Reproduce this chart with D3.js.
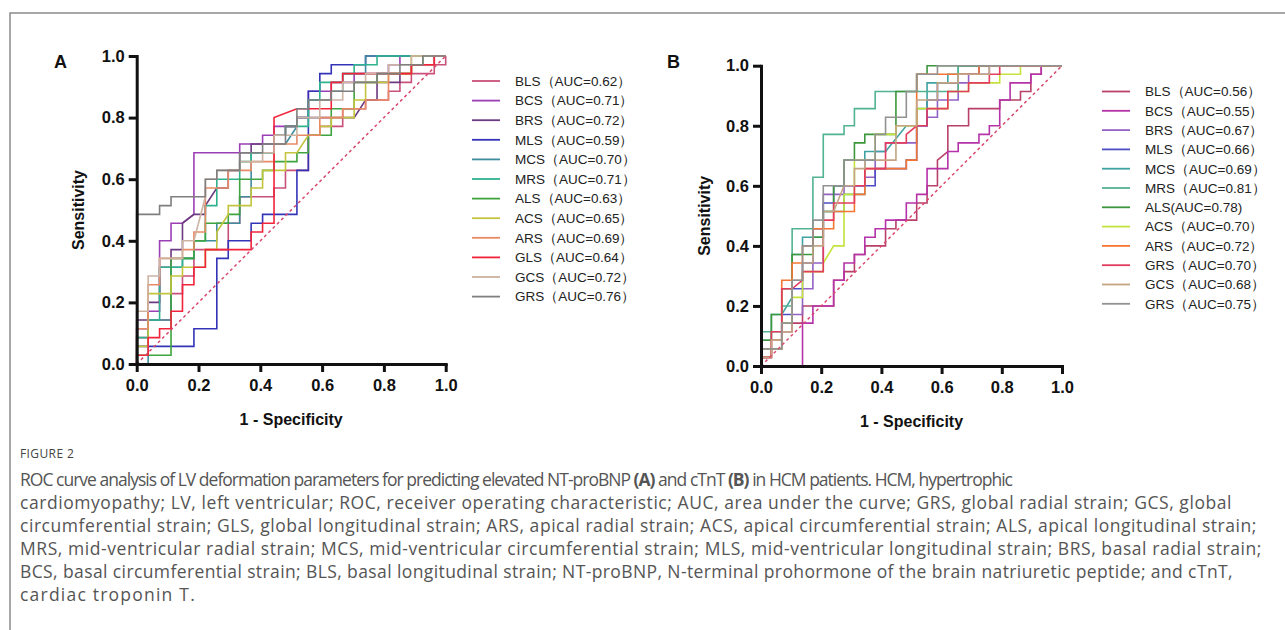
<!DOCTYPE html>
<html>
<head>
<meta charset="utf-8">
<title>ROC curves</title>
<script src="https://d3js.org/d3.v7.min.js"></script>
<style>
body { margin: 0; background: #fff; }
svg text { font-family: "Liberation Sans", Arial, sans-serif; }
.axis path, .axis line { stroke: #111; stroke-width: 3; }
.axis text { font-weight: bold; font-size: 16.5px; fill: #111; }
.lab { font-weight: bold; font-size: 16px; fill: #111; }
.leg { font-size: 13.5px; fill: #222; }
.cap { font-family: "Open Sans", sans-serif; font-size: 17.5px; fill: #555; }
</style>
</head>
<body>
<svg width="1285" height="630"></svg>
<script>
// tick values for both axes
var ticks = [0, 0.2, 0.4, 0.6, 0.8, 1.0];

// panel A: NT-proBNP, 27 negatives / 35 positives, points are [FP count, TP count]
var nNegA = 27, nPosA = 35;
var namesA = ["BLS", "BCS", "BRS", "MLS", "MCS", "MRS", "ALS", "ACS", "ARS", "GLS", "GCS", "GRS"];
var aucA = ["0.62", "0.71", "0.72", "0.59", "0.70", "0.71", "0.63", "0.65", "0.69", "0.64", "0.72", "0.76"];
var colorsA = ["#c9507a", "#9b3fb5", "#6b3a80", "#3434b8", "#3f8c9e", "#2fb38f", "#3fa33f", "#c4c43e", "#e88a66", "#f2243c", "#cdb3a2", "#7f7f7f"];

var bls_A = [[0,0],[0,3],[1,3],[1,5],[3,5],[3,8],[4,8],[4,10],[5,10],[5,13],[8,13],[8,16],[9,16],[9,19],[12,19],[12,20],[13,20],[13,22],[15,22],[15,26],[16,26],[16,27],[18,27],[18,29],[20,29],[20,30],[22,30],[22,31],[23,31],[23,32],[24,32],[24,33],[26,33],[26,34],[27,34],[27,35]];
var bcs_A = [[0,0],[0,4],[1,4],[1,6],[2,6],[2,14],[3,14],[3,16],[4,16],[5,17],[5,24],[9,24],[9,25],[11,25],[11,26],[12,26],[12,27],[14,27],[14,28],[15,28],[15,31],[17,31],[17,32],[19,32],[19,33],[22,33],[22,34],[23,34],[23,35],[27,35]];
var brs_A = [[0,0],[0,5],[1,5],[1,7],[2,7],[2,11],[3,11],[3,13],[4,13],[4,16],[5,17],[6,17],[6,18],[7,20],[8,20],[8,22],[9,22],[9,24],[10,24],[10,25],[12,25],[12,26],[13,26],[13,27],[14,27],[14,28],[19,28],[20,30],[21,30],[21,32],[23,32],[23,33],[24,33],[24,34],[26,34],[26,35],[27,35]];
var mls_A = [[0,0],[0,2],[5,2],[5,4],[7,4],[7,12],[8,12],[8,14],[10,14],[10,16],[11,16],[11,17],[14,17],[14,22],[15,22],[15,31],[16,31],[16,33],[17,33],[17,34],[20,34],[20,35],[27,35]];
var mcs_A = [[0,0],[1,0],[1,5],[3,5],[3,11],[4,11],[4,12],[5,12],[5,14],[7,14],[7,16],[9,16],[9,19],[10,19],[10,24],[12,24],[12,25],[13,25],[14,27],[14,28],[15,28],[15,30],[17,30],[17,31],[18,31],[18,33],[20,33],[20,35],[27,35]];
var mrs_A = [[0,0],[0,3],[1,3],[1,5],[2,5],[2,11],[4,11],[4,12],[5,12],[5,14],[6,14],[6,18],[7,18],[7,21],[9,21],[9,23],[10,23],[10,24],[12,24],[12,26],[13,26],[13,27],[15,27],[15,30],[16,30],[16,32],[18,32],[18,33],[19,33],[19,34],[21,34],[21,35],[27,35]];
var als_A = [[0,0],[0,1],[3,1],[3,12],[5,12],[5,14],[6,14],[6,16],[8,16],[8,17],[9,17],[9,21],[11,21],[11,22],[12,22],[12,23],[14,23],[14,24],[15,24],[15,26],[17,26],[17,29],[19,29],[19,32],[21,32],[21,33],[24,33],[24,34],[25,34],[25,35],[27,35]];
var acs_A = [[0,0],[0,2],[1,2],[1,8],[3,8],[3,10],[4,10],[4,11],[6,11],[6,13],[7,13],[7,15],[8,17],[8,18],[10,18],[10,20],[11,20],[11,22],[13,22],[13,24],[14,24],[15,26],[16,26],[16,27],[17,27],[17,28],[19,28],[19,30],[20,30],[20,32],[22,32],[22,33],[24,33],[24,35],[27,35]];
var ars_A = [[0,0],[0,4],[1,4],[1,9],[2,9],[2,12],[4,12],[4,13],[5,13],[5,15],[6,15],[6,20],[8,20],[8,22],[10,22],[10,23],[12,23],[12,25],[14,25],[14,26],[16,26],[16,28],[18,28],[18,29],[20,29],[20,30],[22,30],[22,33],[24,33],[24,34],[26,34],[26,35],[27,35]];
var gls_A = [[0,0],[0,1],[1,1],[1,3],[2,3],[2,4],[3,4],[3,6],[4,6],[4,9],[5,9],[5,11],[6,11],[6,13],[10,13],[10,15],[11,15],[11,16],[12,16],[12,28],[14,29],[17,29],[17,32],[18,32],[18,33],[24,33],[24,34],[26,34],[26,35],[27,35]];
var gcs_A = [[0,0],[0,6],[1,6],[1,10],[2,10],[2,12],[4,12],[4,14],[5,14],[6,19],[6,21],[7,21],[7,22],[9,22],[9,23],[11,23],[11,24],[12,24],[12,26],[14,26],[14,28],[16,28],[16,30],[18,30],[18,32],[20,32],[20,33],[22,33],[22,34],[24,34],[24,35],[27,35]];
var grs_A = [[0,0],[0,17],[2,17],[2,18],[3,18],[3,19],[6,19],[6,21],[7,21],[7,22],[9,22],[9,24],[11,24],[11,25],[13,25],[13,27],[14,27],[14,29],[15,29],[15,30],[17,30],[17,31],[19,31],[19,32],[21,32],[21,33],[23,33],[23,34],[25,34],[25,35],[27,35]];
var curvesA = [bls_A, bcs_A, brs_A, mls_A, mcs_A, mrs_A, als_A, acs_A, ars_A, gls_A, gcs_A, grs_A];

// panel B: cTnT, 29 negatives / 35 positives
var nNegB = 29, nPosB = 35;
var namesB = ["BLS", "BCS", "BRS", "MLS", "MCS", "MRS", "ALS", "ACS", "ARS", "GRS", "GCS", "GRS"];
var aucB = ["0.56", "0.55", "0.67", "0.66", "0.69", "0.81", "0.78", "0.70", "0.72", "0.70", "0.68", "0.75"];
var colorsB = ["#b8406a", "#b532a8", "#9362c4", "#4e4ec4", "#3fa3a3", "#52b391", "#3c963c", "#c4e33c", "#f57532", "#e23c5e", "#c4a482", "#929292"];

var bls_B = [[0,0],[0,1],[1,1],[1,2],[2,2],[2,4],[3,4],[3,5],[4,5],[4,7],[7,7],[7,10],[8,10],[8,11],[9,11],[9,13],[10,13],[10,14],[12,14],[12,16],[13,16],[13,17],[15,17],[15,19],[16,19],[16,21],[17,21],[17,24],[18,25],[18,28],[20,28],[20,30],[23,30],[23,31],[25,31],[25,32],[26,32],[26,34],[27,34],[27,35],[29,35]];
var bcs_B = [[0,0],[4,0],[4,5],[5,5],[5,7],[7,7],[7,10],[8,10],[8,12],[9,12],[9,13],[10,13],[10,15],[11,15],[11,16],[12,16],[12,17],[14,17],[14,19],[15,19],[15,20],[16,20],[16,23],[18,23],[18,25],[19,25],[19,26],[21,26],[21,27],[22,27],[22,28],[23,28],[23,31],[24,31],[24,33],[26,33],[26,34],[27,34],[27,35],[29,35]];
var brs_B = [[0,0],[0,1],[1,1],[1,2],[2,2],[2,5],[3,5],[3,6],[4,6],[4,9],[5,9],[5,12],[6,12],[6,20],[8,20],[8,21],[10,21],[10,22],[11,22],[11,25],[12,25],[12,26],[15,26],[15,28],[16,28],[16,29],[17,29],[17,31],[19,31],[19,33],[20,33],[20,34],[22,34],[22,35],[29,35]];
var mls_B = [[0,0],[0,2],[1,2],[1,3],[2,3],[2,6],[3,6],[3,9],[4,9],[4,12],[5,12],[5,16],[6,16],[6,19],[7,19],[7,21],[11,21],[11,23],[14,23],[14,24],[15,24],[15,28],[16,28],[16,31],[17,31],[17,33],[19,33],[19,34],[21,34],[21,35],[29,35]];
var mcs_B = [[0,0],[0,3],[1,3],[1,6],[2,6],[3,8],[3,13],[4,13],[4,15],[6,15],[6,18],[8,18],[8,20],[10,20],[10,25],[12,25],[14,28],[15,28],[15,30],[16,30],[16,33],[18,33],[18,34],[19,34],[19,35],[29,35]];
var mrs_B = [[0,0],[0,4],[2,4],[2,7],[3,7],[3,16],[5,16],[5,22],[6,22],[6,27],[8,27],[8,28],[9,28],[9,30],[11,30],[11,32],[19,32],[19,35],[29,35]];
var als_B = [[0,0],[0,3],[1,3],[1,6],[2,6],[2,9],[3,9],[3,13],[5,13],[5,15],[6,15],[6,18],[7,18],[7,21],[8,21],[8,24],[9,24],[9,26],[10,26],[10,27],[13,27],[13,32],[15,32],[15,34],[16,34],[16,35],[29,35]];
var acs_B = [[0,0],[0,2],[2,2],[2,5],[3,5],[3,8],[4,8],[4,11],[6,11],[6,12],[7,14],[8,14],[8,20],[9,20],[9,24],[11,24],[11,27],[13,27],[13,28],[15,28],[15,30],[18,30],[18,32],[20,32],[20,33],[23,33],[23,34],[25,34],[25,35],[29,35]];
var ars_B = [[0,0],[0,1],[1,1],[1,3],[2,3],[2,10],[3,10],[3,12],[4,12],[4,14],[5,14],[5,16],[7,16],[7,18],[9,18],[9,20],[10,20],[10,23],[14,23],[14,24],[15,24],[15,34],[21,34],[21,35],[29,35]];
var grs2_B = [[0,0],[0,1],[1,1],[1,4],[2,4],[2,9],[3,9],[4,10],[4,11],[6,11],[6,17],[7,17],[7,19],[9,19],[9,21],[10,21],[10,23],[12,23],[12,26],[14,26],[14,27],[15,28],[16,28],[16,30],[18,30],[18,32],[20,32],[20,33],[22,33],[22,34],[23,34],[23,35],[29,35]];
var gcs_B = [[0,0],[0,1],[1,1],[1,3],[2,3],[2,4],[3,4],[3,10],[4,10],[4,12],[5,12],[5,14],[6,14],[6,18],[7,18],[8,21],[9,21],[9,23],[10,23],[10,24],[13,24],[13,28],[15,28],[15,31],[17,31],[17,33],[19,33],[19,34],[22,34],[22,35],[29,35]];
var grs_B = [[0,0],[0,2],[2,2],[2,5],[3,5],[3,10],[4,10],[4,14],[5,14],[5,17],[6,17],[6,21],[8,21],[8,24],[11,24],[11,27],[12,27],[12,29],[14,29],[14,32],[15,32],[15,34],[17,34],[17,35],[29,35]];
var curvesB = [bls_B, bcs_B, brs_B, mls_B, mcs_B, mrs_B, als_B, acs_B, ars_B, grs2_B, gcs_B, grs_B];

// caption lines and the width each one fills in the figure
var capLines = [
  ["ROC curve analysis of LV deformation parameters for predicting elevated NT-proBNP ", "(A)", " and cTnT ", "(B)", " in HCM patients. HCM, hypertrophic"],
  ["cardiomyopathy; LV, left ventricular; ROC, receiver operating characteristic; AUC, area under the curve; GRS, global radial strain; GCS, global"],
  ["circumferential strain; GLS, global longitudinal strain; ARS, apical radial strain; ACS, apical circumferential strain; ALS, apical longitudinal strain;"],
  ["MRS, mid-ventricular radial strain; MCS, mid-ventricular circumferential strain; MLS, mid-ventricular longitudinal strain; BRS, basal radial strain;"],
  ["BCS, basal circumferential strain; BLS, basal longitudinal strain; NT-proBNP, N-terminal prohormone of the brain natriuretic peptide; and cTnT,"],
  ["cardiac troponin T."]
];
var capWidths = [992, 1212, 1237, 1242, 1213, 176];

var svg = d3.select("svg");

// frame around the figure
svg.append("path")
    .attr("d", "M10,630 L10,13 L1285,13")
    .attr("fill", "none")
    .attr("stroke", "#8a8a8a")
    .attr("stroke-width", 1.5);

function drawPanel(opt) {
  var x = d3.scaleLinear().domain([0, 1]).range(opt.xr);
  var y = d3.scaleLinear().domain([0, 1]).range(opt.yr);
  var g = svg.append("g");

  // curves
  var line = d3.line()
      .x(function(d) { return x(d[0] / opt.nNeg); })
      .y(function(d) { return y(d[1] / opt.nPos); });

  g.selectAll(".curve")
    .data(opt.curves)
    .enter().append("path")
      .attr("class", "curve")
      .attr("d", line)
      .attr("fill", "none")
      .attr("stroke", function(d, i) { return opt.colors[i]; })
      .attr("stroke-width", 1.6);

  // reference diagonal
  g.append("line")
      .attr("x1", x(0)).attr("y1", y(0))
      .attr("x2", x(1)).attr("y2", y(1))
      .attr("stroke", "#d9486e")
      .attr("stroke-width", 1.5)
      .attr("stroke-dasharray", "3,3");

  g.append("g")
      .attr("class", "axis")
      .attr("transform", "translate(0," + opt.yr[0] + ")")
      .call(d3.axisBottom(x).tickValues(ticks).tickFormat(d3.format(".1f")).tickSize(8).tickSizeOuter(0).tickPadding(7));

  g.append("g")
      .attr("class", "axis")
      .attr("transform", "translate(" + opt.xr[0] + ",0)")
      .call(d3.axisLeft(y).tickValues(ticks).tickFormat(d3.format(".1f")).tickSize(8).tickSizeOuter(0).tickPadding(4));

  g.selectAll(".axis .domain").attr("stroke-linecap", "square");

  g.append("text")
      .attr("class", "lab")
      .attr("x", (opt.xr[0] + opt.xr[1]) / 2)
      .attr("y", opt.yr[0] + 61)
      .attr("text-anchor", "middle")
      .text("1 - Specificity");

  g.append("text")
      .attr("class", "lab")
      .attr("transform", "translate(" + opt.ylabX + "," + (opt.yr[0] + opt.yr[1]) / 2 + ") rotate(-90)")
      .attr("text-anchor", "middle")
      .text("Sensitivity");

  g.append("text")
      .attr("class", "lab")
      .attr("x", opt.letterX)
      .attr("y", 68)
      .style("font-size", "18px")
      .text(opt.letter);

  // legend
  var leg = g.selectAll(".legrow")
    .data(opt.names)
    .enter().append("g")
      .attr("transform", function(d, i) { return "translate(" + opt.legX + "," + (opt.legY + i * opt.legStep) + ")"; });

  leg.append("line")
      .attr("x1", 0).attr("x2", 28)
      .attr("stroke", function(d, i) { return opt.colors[i]; })
      .attr("stroke-width", 1.8);

  leg.append("text")
      .attr("class", "leg")
      .attr("x", 43)
      .attr("dy", "0.36em")
      .text(function(d, i) { return opt.labelFmt(d, opt.auc[i], i); });
}

drawPanel({
  xr: [136.7, 445.7], yr: [364, 56],
  nNeg: nNegA, nPos: nPosA,
  curves: curvesA, colors: colorsA, names: namesA, auc: aucA,
  ylabX: 84, letterX: 54, letter: "A",
  legX: 472, legY: 81, legStep: 19.6,
  labelFmt: function(n, a) { return n + "（AUC=" + a + "）"; }
});

drawPanel({
  xr: [761, 1062], yr: [366, 65.7],
  nNeg: nNegB, nPos: nPosB,
  curves: curvesB, colors: colorsB, names: namesB, auc: aucB,
  ylabX: 710, letterX: 667, letter: "B",
  legX: 1102, legY: 91.5, legStep: 19.3,
  labelFmt: function(n, a, i) { return i === 6 ? n + "(AUC=" + a + ")" : n + "（AUC=" + a + "）"; }
});

// caption
svg.append("text")
    .attr("x", 20).attr("y", 458)
    .attr("class", "cap")
    .style("font-size", "12px")
    .style("fill", "#444")
    .style("letter-spacing", "0.4px")
    .text("FIGURE 2");

capLines.forEach(function(parts, li) {
  var t = svg.append("text")
      .attr("class", "cap")
      .attr("x", 20)
      .attr("y", 486 + li * 23);
  parts.forEach(function(p) {
    t.append("tspan")
      .style("font-weight", (p === "(A)" || p === "(B)") ? "bold" : null)
      .text(p);
  });
  // spread the letters so the line ends where it does in the figure
  var w = t.node().getComputedTextLength();
  var n = parts.join("").length;
  t.style("letter-spacing", ((capWidths[li] - w) / n) + "px");
});
</script>
</body>
</html>
